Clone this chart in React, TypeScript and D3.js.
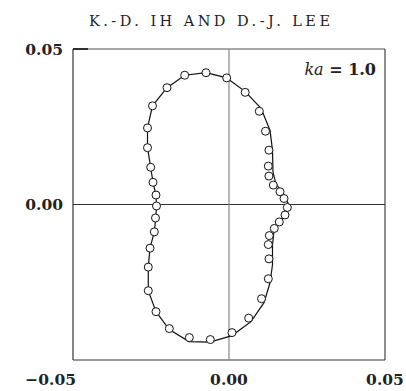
import React from "react";
import * as d3 from "d3";

// Measured far-field points (x, y)
const measuredX = [
  0.0128, 0.0126, 0.0128, 0.0142, 0.01635, 0.01763, 0.01869, 0.01795, 0.01612, 0.01452,
  0.01292, 0.0126, 0.01282, 0.0126, 0.01042, 0.00631, 0.00096, -0.00599, -0.01272, -0.01913,
  -0.0234, -0.02587, -0.02587, -0.02532, -0.02394, -0.02356, -0.02324, -0.0234, -0.02436, -0.0251,
  -0.02612, -0.02612, -0.02452, -0.01987, -0.0142, -0.00737, -0.00074, 0.00519, 0.00971, 0.0117,
];
const measuredY = [
  0.01747, 0.01234, 0.00913, 0.00625, 0.0041, 0.00192, -0.00096, -0.00337, -0.00561, -0.00769,
  -0.01, -0.01288, -0.01747, -0.02388, -0.03029, -0.03654, -0.04119, -0.04343, -0.04279, -0.0399,
  -0.03446, -0.02772, -0.02013, -0.01404, -0.00881, -0.00433, -0.00048, 0.00304, 0.00712, 0.01196,
  0.01827, 0.02462, 0.03173, 0.03756, 0.04157, 0.04237, 0.04071, 0.03606, 0.02997, 0.02356,
];

// Computed curve (closed)
const curveX = [
  -0.00074, 0.00513, 0.01026, 0.01314, 0.01394, 0.0141, 0.01506, 0.01731, 0.01907, 0.01827,
  0.01603, 0.01442, 0.01394, 0.01394, 0.01314, 0.01122, 0.00705, 0.00096, -0.00609, -0.01282,
  -0.01913, -0.0234, -0.02587, -0.02587, -0.02532, -0.02394, -0.02346, -0.02324, -0.0234, -0.02436,
  -0.0251, -0.02612, -0.02612, -0.02452, -0.01987, -0.0142, -0.00737,
];
const curveY = [
  0.04071, 0.03638, 0.03093, 0.02388, 0.01747, 0.01042, 0.00657, 0.00369, 0.00016, -0.00337,
  -0.00609, -0.00849, -0.01298, -0.01939, -0.02516, -0.03157, -0.03766, -0.04215, -0.04423, -0.04407,
  -0.04022, -0.03446, -0.02772, -0.02013, -0.01404, -0.00881, -0.00433, -0.00048, 0.00304, 0.00712,
  0.01196, 0.01827, 0.02462, 0.03173, 0.03756, 0.04157, 0.04237,
];

const domain: [number, number] = [-0.05, 0.05];
const xTicks = [-0.05, 0, 0.05];
const yTicks = [0, 0.05];
const title = "K.-D.  IH AND D.-J.  LEE";

const W = 406;
const H = 391;
const plot = { left: 73, right: 385, top: 49, bottom: 360 };

const fmt = (v: number) => (v < 0 ? "\u2212" : "") + d3.format(".2f")(Math.abs(v));

export default function App() {
  const x = d3.scaleLinear().domain(domain).range([plot.left, plot.right]);
  const y = d3.scaleLinear().domain(domain).range([plot.bottom, plot.top]);

  const measured = measuredX.map((v, i) => [v, measuredY[i]] as [number, number]);
  const curve = curveX.map((v, i) => [v, curveY[i]] as [number, number]);
  const line = d3
    .line<[number, number]>()
    .x((d) => x(d[0]))
    .y((d) => y(d[1]))
    .curve(d3.curveLinearClosed);

  const serif = "'DejaVu Serif', 'Liberation Serif', serif";

  return (
    <svg
      width={W}
      height={H}
      style={{ position: "absolute", left: 0, top: 0, display: "block", background: "#fff" }}
    >
      <text
        x={89}
        y={26}
        fontFamily={serif}
        fontSize={14.5}
        textLength={241}
        lengthAdjust="spacing"
        fill="#222"
      >
        {title}
      </text>

      {/* frame */}
      <line x1={plot.left} x2={plot.right} y1={plot.top} y2={plot.top} stroke="#888" strokeWidth={1.3} />
      <line x1={plot.left} x2={plot.right} y1={plot.bottom} y2={plot.bottom} stroke="#333" strokeWidth={1.2} />
      <line x1={plot.left} x2={plot.left} y1={plot.top} y2={plot.bottom} stroke="#333" strokeWidth={1.2} />
      <line x1={plot.right} x2={plot.right} y1={plot.top} y2={plot.bottom} stroke="#444" strokeWidth={1.2} />

      {/* zero axes */}
      <line x1={plot.left} x2={plot.right} y1={y(0)} y2={y(0)} stroke="#333" strokeWidth={1.1} />
      <line x1={x(0)} x2={x(0)} y1={plot.top} y2={plot.bottom} stroke="#888" strokeWidth={1.2} />

      {/* tick at top-left */}
      <line x1={plot.left} x2={plot.left + 15} y1={y(0.05)} y2={y(0.05)} stroke="#111" strokeWidth={1.6} />

      {yTicks.map((t) => (
        <text
          key={"y" + t}
          x={63}
          y={y(t)}
          dy="0.36em"
          textAnchor="end"
          fontFamily={serif}
          fontWeight="bold"
          fontSize={15.5}
          fill="#222"
        >
          {fmt(t)}
        </text>
      ))}
      {xTicks.map((t) => (
        <text
          key={"x" + t}
          x={t < 0 ? x(t) + 3 : x(t)}
          y={385}
          textAnchor={t < 0 ? "end" : "middle"}
          fontFamily={serif}
          fontWeight="bold"
          fontSize={15.5}
          fill="#222"
        >
          {fmt(t)}
        </text>
      ))}

      <path d={line(curve) ?? ""} fill="none" stroke="#111" strokeWidth={1.2} />

      {measured.map((d, i) => (
        <circle key={i} cx={x(d[0])} cy={y(d[1])} r={4} fill="#fff" stroke="#111" strokeWidth={1} />
      ))}

      <text x={376} y={75} textAnchor="end" fontFamily={serif} fontSize={16} fill="#222">
        <tspan fontStyle="italic">ka</tspan>
        <tspan fontWeight="bold"> = 1.0</tspan>
      </text>
    </svg>
  );
}
